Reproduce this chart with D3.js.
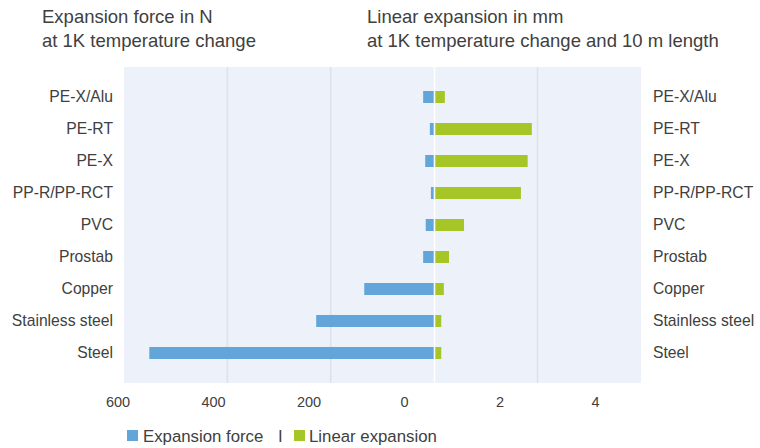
<!DOCTYPE html>
<html><head><meta charset="utf-8">
<script src="https://cdn.jsdelivr.net/npm/d3@7"></script>
<style>
html,body{margin:0;padding:0;background:#fff;}
svg{display:block;font-family:"Liberation Sans",Arial,sans-serif;}
</style></head>
<body>
<svg id="chart" width="760" height="448"></svg>
<script>
const categories = ["PE-X/Alu","PE-RT","PE-X","PP-R/PP-RCT","PVC","Prostab","Copper","Stainless steel","Steel"];
const expansionForce = [21, 8, 17, 6, 16, 21, 135, 228, 551];      // N
const linearExpansion = [0.21, 1.89, 1.81, 1.68, 0.58, 0.29, 0.19, 0.14, 0.14]; // mm
const tickLabels = ["600","400","200","0","2","4"];
const forceGrid = [400, 200];
const lengthGrid = [2];
const titleLeft = ["Expansion force in N","at 1K temperature change"];
const titleRight = ["Linear expansion in mm","at 1K temperature change and 10 m length"];
const legendItems = ["Expansion force","Linear expansion"];

const blue = "#62a5d8", green = "#a6c628", bg = "#edf1f9", grid = "#dbe2ed", txt = "#404040";
const svg = d3.select("#chart");
const plot = {left:124, right:641, top:67, bottom:383};

const xF = d3.scaleLinear().domain([600,0]).range([plot.left,434]);
const xL = d3.scaleLinear().domain([0,4]).range([434,plot.right]);
const y = d3.scalePoint().domain(categories).range([97,353]);
const barH = 12;

svg.append("rect").attr("x",plot.left).attr("y",plot.top)
  .attr("width",plot.right-plot.left).attr("height",plot.bottom-plot.top).attr("fill",bg);

svg.selectAll(".gf").data(forceGrid).join("line")
  .attr("x1",d=>xF(d)).attr("x2",d=>xF(d)).attr("y1",plot.top).attr("y2",plot.bottom)
  .attr("stroke",grid).attr("stroke-width",1.5);
svg.selectAll(".gl").data(lengthGrid).join("line")
  .attr("x1",d=>xL(d)).attr("x2",d=>xL(d)).attr("y1",plot.top).attr("y2",plot.bottom)
  .attr("stroke",grid).attr("stroke-width",1.5);

svg.append("g").selectAll("rect").data(categories).join("rect")
  .attr("x",(d,i)=>xF(expansionForce[i])).attr("y",d=>y(d)-barH/2)
  .attr("width",(d,i)=>xF(0)-xF(expansionForce[i])).attr("height",barH).attr("fill",blue);
svg.append("g").selectAll("rect").data(categories).join("rect")
  .attr("x",xL(0)).attr("y",d=>y(d)-barH/2)
  .attr("width",(d,i)=>xL(linearExpansion[i])-xL(0)).attr("height",barH).attr("fill",green);

svg.append("line").attr("x1",xL(0)+0.5).attr("x2",xL(0)+0.5).attr("y1",plot.top).attr("y2",plot.bottom)
  .attr("stroke","#fff").attr("stroke-width",1.6);

// category labels
svg.append("g").selectAll("text").data(categories).join("text")
  .attr("x",113).attr("y",d=>y(d)).attr("dy","0.35em").attr("text-anchor","end")
  .attr("font-size",15.7).attr("fill",txt).text(d=>d);
svg.append("g").selectAll("text").data(categories).join("text")
  .attr("x",653).attr("y",d=>y(d)).attr("dy","0.35em").attr("text-anchor","start")
  .attr("font-size",15.7).attr("fill",txt).text(d=>d);

// bottom tick labels
const xTick = d3.scalePoint().domain(tickLabels).range([117.5,595]);
const ax = svg.append("g").attr("transform","translate(0,397)")
  .call(d3.axisBottom(xTick).tickSize(0).tickPadding(0));
ax.select(".domain").remove();
ax.selectAll("text").attr("font-size",14.5).attr("fill",txt).attr("font-family","Liberation Sans, Arial, sans-serif");

// titles
svg.append("g").selectAll("text").data(titleLeft).join("text")
  .attr("x",42).attr("y",(d,i)=>23+i*24).attr("font-size",18.5).attr("fill",txt).text(d=>d);
svg.append("g").selectAll("text").data(titleRight).join("text")
  .attr("x",367).attr("y",(d,i)=>23+i*24).attr("font-size",18.5).attr("fill",txt).text(d=>d);

// legend
const lg = svg.append("g");
lg.append("rect").attr("x",127).attr("y",430).attr("width",11).attr("height",11).attr("fill",blue);
lg.append("text").attr("x",143).attr("y",442).attr("font-size",16.8).attr("fill",txt).text(legendItems[0]);
lg.append("text").attr("x",278).attr("y",442).attr("font-size",16.8).attr("fill",txt).text("I");
lg.append("rect").attr("x",294).attr("y",430).attr("width",11).attr("height",11).attr("fill",green);
lg.append("text").attr("x",309).attr("y",442).attr("font-size",16.8).attr("fill",txt).text(legendItems[1]);
</script>
</body></html>
